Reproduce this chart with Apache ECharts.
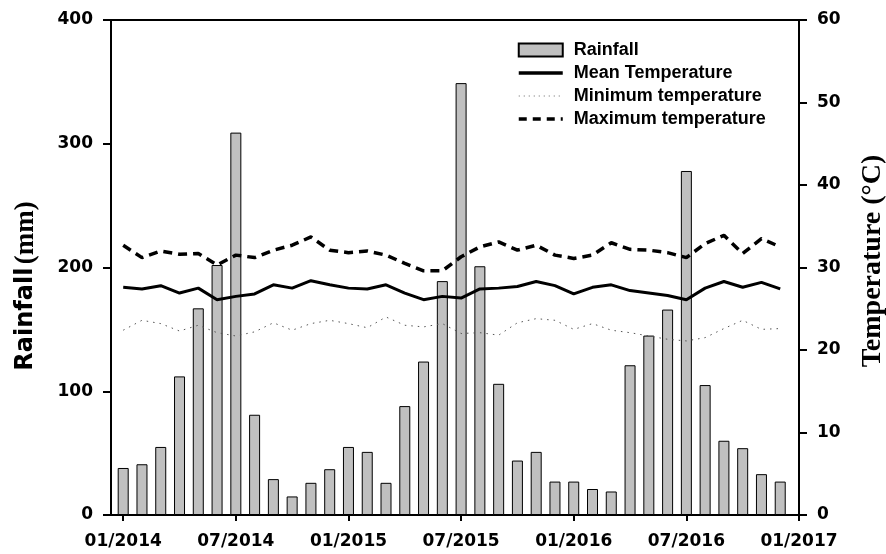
<!DOCTYPE html>
<html>
<head>
<meta charset="utf-8">
<script src="https://cdn.jsdelivr.net/npm/echarts@6/dist/echarts.min.js"></script>
<style>html,body{margin:0;padding:0;background:#fff}#c{width:886px;height:554px}</style>
</head>
<body>
<div id="c"></div>
<script>
var xTickLabels = ['01/2014','07/2014','01/2015','07/2015','01/2016','07/2016','01/2017'];
var xTickMonths = [0, 6, 12, 18, 24, 30, 36];
var rainfall = [38, 41, 55, 112, 167, 202, 309, 81, 29, 15, 26, 37,
                55, 51, 26, 88, 124, 189, 349, 201, 106, 44, 51, 27,
                27, 21, 19, 121, 145, 166, 278, 105, 60, 54, 33, 27];
var meanTemp = [27.6, 27.4, 27.8, 26.9, 27.5, 26.1, 26.5, 26.8, 27.9, 27.5, 28.4, 27.9,
                27.5, 27.4, 27.9, 26.9, 26.1, 26.5, 26.3, 27.4, 27.5, 27.7, 28.3, 27.8,
                26.8, 27.6, 27.9, 27.2, 26.9, 26.6, 26.1, 27.5, 28.3, 27.6, 28.2, 27.4];
var maxTemp = [32.7, 31.2, 32.0, 31.6, 31.7, 30.3, 31.5, 31.2, 32.1, 32.7, 33.7, 32.1,
               31.8, 32.0, 31.5, 30.5, 29.6, 29.6, 31.3, 32.5, 33.1, 32.1, 32.7, 31.5,
               31.1, 31.5, 33.0, 32.2, 32.1, 31.8, 31.2, 32.9, 33.9, 31.7, 33.5, 32.5];
var minTemp = [22.4, 23.6, 23.2, 22.3, 23.0, 22.1, 21.7, 22.2, 23.3, 22.4, 23.2, 23.6,
               23.2, 22.7, 24.0, 23.0, 22.8, 23.2, 22.0, 22.1, 21.8, 23.3, 23.8, 23.6,
               22.5, 23.2, 22.4, 22.1, 21.7, 21.3, 21.1, 21.5, 22.6, 23.6, 22.5, 22.6];

function pairs(arr) { return arr.map(function (v, i) { return [i, v]; }); }

var tickFont = { fontFamily: 'DejaVu Sans', fontWeight: 'bold', fontSize: 17, color: '#000' };
var chart = echarts.init(document.getElementById('c'), null, { renderer: 'canvas' });
chart.setOption({
  backgroundColor: '#fff',
  animation: false,
  grid: { left: 111, right: 87, top: 20, bottom: 39, show: true, borderColor: '#000', borderWidth: 2, backgroundColor: 'transparent' },
  legend: {
    orient: 'vertical', left: 512, top: 36,
    itemWidth: 44, itemHeight: 13, itemGap: 5,
    textStyle: { fontFamily: 'Liberation Sans', fontWeight: 'bold', fontSize: 18, color: '#000', padding: [0, 0, 0, 6] },
    data: [
      { name: 'Rainfall', icon: 'rect' },
      { name: 'Mean Temperature', itemStyle: { opacity: 0 }, lineStyle: { width: 3.5, color: '#000', type: 'solid' } },
      { name: 'Minimum temperature', itemStyle: { opacity: 0 }, lineStyle: { width: 1, color: '#666', type: [1, 4] } },
      { name: 'Maximum temperature', itemStyle: { opacity: 0 }, lineStyle: { width: 3.5, color: '#000', type: [8, 6] } }
    ]
  },
  xAxis: {
    type: 'value', min: -0.65, max: 36,
    axisLine: { show: true, onZero: false, lineStyle: { color: '#000', width: 2 } },
    axisTick: { show: true, customValues: xTickMonths, length: 6, lineStyle: { color: '#000', width: 2 } },
    axisLabel: Object.assign({ customValues: xTickMonths, margin: 18,
      formatter: function (v) { return xTickLabels[Math.round(v / 6)]; } }, tickFont),
    splitLine: { show: false }
  },
  yAxis: [
    {
      type: 'value', min: 0, max: 400, interval: 100, position: 'left',
      axisLine: { show: true, onZero: false, lineStyle: { color: '#000', width: 2 } },
      axisTick: { show: true, length: 8, lineStyle: { color: '#000', width: 2 } },
      axisLabel: Object.assign({ margin: 18 }, tickFont),
      splitLine: { show: false }
    },
    {
      type: 'value', min: 0, max: 60, interval: 10, position: 'right',
      axisLine: { show: true, onZero: false, lineStyle: { color: '#000', width: 2 } },
      axisTick: { show: true, length: 8, lineStyle: { color: '#000', width: 2 } },
      axisLabel: Object.assign({ margin: 18 }, tickFont),
      splitLine: { show: false }
    }
  ],
  graphic: [
    {
      type: 'text', x: 26, y: 286, rotation: Math.PI / 2,
      style: {
        text: '{a|Rainfall} {b|(mm)}', align: 'center', verticalAlign: 'middle',
        rich: {
          a: { fontFamily: 'DejaVu Sans', fontWeight: 'bold', fontSize: 24, fill: '#000' },
          b: { fontFamily: 'Liberation Serif', fontWeight: 'bold', fontSize: 27, fill: '#000' }
        }
      }
    },
    {
      type: 'text', x: 873, y: 261, rotation: Math.PI / 2,
      style: {
        text: 'Temperature (°C)', align: 'center', verticalAlign: 'middle',
        fontFamily: 'Liberation Serif', fontWeight: 'bold', fontSize: 28, fill: '#000'
      }
    }
  ],
  series: [
    {
      name: 'Rainfall', type: 'bar', yAxisIndex: 0, barWidth: 11,
      itemStyle: { color: '#c0c0c0', borderColor: '#000', borderWidth: 1 },
      data: pairs(rainfall), z: 2
    },
    {
      name: 'Mean Temperature', type: 'line', yAxisIndex: 1, symbol: 'none',
      lineStyle: { color: '#000', width: 3 }, itemStyle: { color: '#000' },
      data: pairs(meanTemp), z: 3
    },
    {
      name: 'Minimum temperature', type: 'line', yAxisIndex: 1, symbol: 'none',
      lineStyle: { color: '#555', width: 1, type: [1.5, 5] }, itemStyle: { color: '#555' },
      data: pairs(minTemp), z: 3
    },
    {
      name: 'Maximum temperature', type: 'line', yAxisIndex: 1, symbol: 'none',
      lineStyle: { color: '#000', width: 3.5, type: [9, 6] }, itemStyle: { color: '#000' },
      data: pairs(maxTemp), z: 3
    }
  ]
});
</script>
</body>
</html>
